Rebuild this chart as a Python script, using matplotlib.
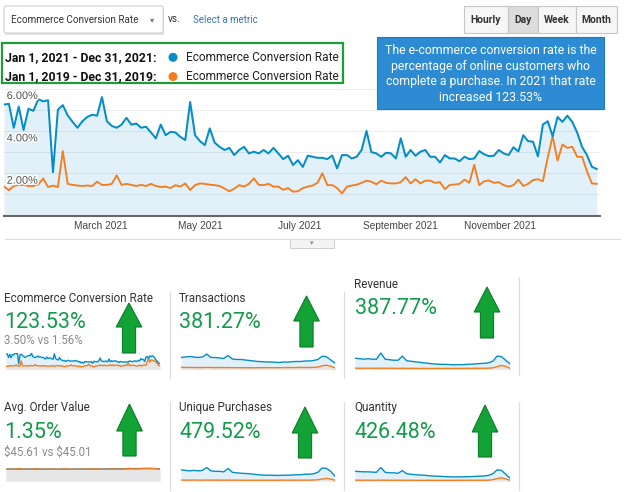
import numpy as np
import pandas as pd
import matplotlib
matplotlib.use("Agg")
import matplotlib.pyplot as plt
import matplotlib.transforms as mtransforms
import matplotlib.patheffects as pe
from matplotlib.patches import Rectangle, FancyBboxPatch, Polygon, Circle

plt.rcParams['font.family'] = ['Roboto', 'DejaVu Sans']

# ---------------- data ----------------
START_DATE = "2021-01-01"
STEP_DAYS = 3
CONV_2021 = [5.25, 5.28, 4.15, 5.15, 4.05, 5.05, 4.95, 5.50, 5.40, 5.45,
             2.05, 5.00, 5.22, 4.74, 4.43, 4.15, 4.46, 4.66, 4.77, 4.72,
             5.60, 4.46, 4.24, 4.15, 4.30, 4.62, 4.30, 4.35, 4.15, 4.20,
             3.93, 3.65, 4.30, 3.80, 3.96, 3.93, 3.72, 3.57, 5.37, 3.80,
             3.52, 3.33, 4.12, 3.45, 3.25, 3.10, 3.20, 2.86, 3.10, 3.25,
             2.94, 3.02, 2.94, 3.10, 2.94, 3.20, 2.94, 2.67, 2.83, 2.39,
             2.62, 2.30, 2.83, 2.78, 2.73, 2.73, 2.67, 2.84, 2.23, 2.86,
             2.86, 2.70, 2.78, 3.10, 4.00, 3.00, 2.94, 2.78, 2.97, 2.94,
             2.70, 3.65, 2.78, 3.10, 2.83, 3.02, 3.10, 2.78, 2.78, 2.51,
             2.86, 2.70, 2.70, 2.57, 2.78, 2.67, 2.70, 3.05, 2.90, 2.81,
             2.83, 3.10, 2.94, 2.86, 3.23, 3.03, 3.80, 3.52, 3.49, 2.80,
             4.30, 4.46, 3.75, 4.66, 4.43, 4.72, 4.43, 3.93, 3.25, 2.86,
             2.31, 2.20]
CONV_2019 = [1.37, 1.20, 1.40, 1.45, 1.45, 1.40, 1.40, 1.48, 1.75, 1.35,
             1.42, 1.35, 3.05, 1.50, 1.45, 1.42, 1.40, 1.42, 1.40, 1.60,
             1.45, 1.45, 1.50, 1.90, 1.45, 1.50, 1.45, 1.40, 1.45, 1.40,
             1.50, 1.40, 1.35, 1.37, 1.30, 1.44, 1.37, 1.52, 1.21, 1.44,
             1.52, 1.50, 1.46, 1.44, 1.40, 1.28, 1.15, 1.27, 1.44, 1.37,
             1.50, 1.76, 1.45, 1.44, 1.50, 1.37, 1.37, 1.22, 1.30, 1.13,
             1.15, 1.30, 1.37, 1.42, 1.55, 2.00, 1.44, 1.44, 1.30, 1.05,
             1.37, 1.42, 1.46, 1.55, 1.65, 1.60, 1.48, 1.65, 1.55, 1.52,
             1.52, 1.58, 1.82, 1.52, 1.72, 1.52, 1.65, 1.65, 1.55, 1.58,
             1.25, 1.45, 1.47, 1.50, 1.70, 1.55, 2.40, 1.44, 1.62, 1.66,
             1.55, 1.58, 1.44, 1.37, 1.44, 1.70, 1.40, 1.50, 1.68, 1.72,
             1.62, 2.75, 3.75, 2.60, 3.36, 3.20, 3.25, 2.78, 2.78, 2.10,
             1.52, 1.50]
Y_TICKS = [2, 4, 6]
Y_TICK_LABELS = ["2.00%", "4.00%", "6.00%"]
X_TICK_DATES = ["2021-03-01", "2021-05-01", "2021-07-01", "2021-09-01", "2021-11-01"]
X_TICK_LABELS = ["March 2021", "May 2021", "July 2021", "September 2021", "November 2021"]

SPARK_STEP = 10
TRANS_2021 = [12.0, 12.5, 13.0, 12.5, 12.0, 12.5, 15.5, 12.0, 12.0, 11.5,
              11.0, 14.0, 10.5, 10.0, 10.0, 9.5, 9.0, 8.5, 8.0, 7.8,
              7.5, 7.5, 7.2, 7.0, 7.5, 7.3, 7.8, 8.0, 8.0, 8.5,
              8.5, 9.0, 10.0, 13.3, 12.7, 9.5, 6.5]
TRANS_2019 = [2.2, 2.0, 2.1, 2.0, 1.9, 2.0, 2.1, 2.0, 1.9, 2.0,
              1.9, 2.0, 1.8, 1.9, 1.8, 1.8, 1.8, 1.7, 1.8, 1.8,
              1.9, 1.8, 1.8, 1.9, 1.9, 2.0, 1.9, 2.0, 2.1, 2.0,
              2.0, 2.1, 2.4, 3.8, 4.3, 3.2, 1.6]
REV_2021 = [11.0, 10.5, 10.0, 10.5, 10.0, 10.0, 16.0, 10.0, 9.5, 9.0,
            9.0, 13.0, 8.5, 8.0, 7.5, 7.0, 6.5, 6.0, 5.5, 5.2,
            5.0, 5.0, 4.8, 4.5, 4.8, 4.6, 5.0, 5.2, 5.4, 5.8,
            6.0, 6.5, 8.0, 13.0, 12.5, 9.0, 5.5]
REV_2019 = [1.3, 1.2, 1.2, 1.3, 1.2, 1.2, 1.3, 1.2, 1.2, 1.2,
            1.1, 1.2, 1.1, 1.1, 1.1, 1.0, 1.1, 1.0, 1.0, 1.1,
            1.0, 1.1, 1.0, 1.1, 1.1, 1.1, 1.2, 1.1, 1.2, 1.2,
            1.2, 1.3, 1.6, 2.8, 4.0, 3.0, 1.2]
UNIQ_2021 = [11.5, 11.0, 10.5, 11.0, 10.5, 11.0, 14.0, 10.5, 10.0, 10.0,
             9.5, 13.0, 9.0, 8.5, 8.0, 7.8, 7.5, 7.0, 6.5, 6.2,
             6.0, 6.0, 5.8, 5.8, 6.0, 6.0, 6.2, 6.5, 6.5, 7.0,
             7.0, 7.5, 9.0, 13.5, 13.0, 10.0, 5.0]
UNIQ_2019 = [1.0, 0.9, 0.9, 1.0, 0.9, 0.9, 1.0, 0.9, 0.9, 0.9,
             0.9, 0.9, 0.8, 0.9, 0.8, 0.8, 0.8, 0.8, 0.8, 0.8,
             0.8, 0.8, 0.8, 0.8, 0.9, 0.8, 0.9, 0.9, 0.9, 0.9,
             0.9, 1.0, 1.3, 2.0, 2.7, 2.0, 0.8]
QTY_2021 = [10.0, 9.8, 9.5, 9.5, 9.2, 9.0, 14.0, 9.0, 8.5, 8.5,
            8.0, 10.7, 7.5, 7.0, 6.5, 6.2, 6.0, 5.5, 5.2, 5.0,
            4.8, 4.5, 4.3, 4.2, 4.3, 4.2, 4.5, 4.5, 4.8, 5.0,
            5.2, 5.8, 7.5, 11.5, 11.0, 7.0, 3.0]
QTY_2019 = [0.9, 0.8, 0.8, 0.9, 0.8, 0.8, 0.9, 0.8, 0.8, 0.8,
            0.8, 0.8, 0.7, 0.8, 0.7, 0.7, 0.7, 0.7, 0.7, 0.7,
            0.7, 0.7, 0.7, 0.7, 0.8, 0.7, 0.8, 0.8, 0.8, 0.8,
            0.8, 0.9, 1.4, 2.5, 3.3, 2.2, 0.8]
AOV_2021 = [45.0, 45.5, 44.8, 45.2, 45.0, 45.3, 45.5, 45.0, 44.8, 45.2,
            45.0, 45.3, 44.8, 45.0, 45.2, 44.8, 45.0, 45.5, 45.2, 45.0,
            45.3, 45.5, 45.2, 45.8, 45.5, 46.0, 45.8, 46.0, 46.2, 46.5,
            46.8, 47.0, 47.5, 47.8, 47.5, 47.0, 45.5]
AOV_2019 = [44.5, 45.5, 44.0, 47.0, 44.5, 45.0, 44.2, 46.5, 44.5, 45.0,
            44.8, 45.5, 44.2, 45.0, 46.0, 44.5, 45.0, 44.2, 45.5, 44.8,
            45.0, 46.5, 44.5, 45.0, 44.8, 45.5, 45.0, 45.2, 46.0, 48.0,
            45.5, 46.0, 46.5, 47.0, 46.8, 46.5, 44.5]

TILE_TITLES = ["Ecommerce Conversion Rate", "Transactions", "Revenue",
               "Avg. Order Value", "Unique Purchases", "Quantity"]
TILE_CHANGES = ["123.53%", "381.27%", "387.77%", "1.35%", "479.52%", "426.48%"]
TILE_SUBS = ["3.50% vs 1.56%", "", "", "$45.61 vs $45.01", "", ""]

LEGEND_RANGES = ["Jan 1, 2021 - Dec 31, 2021:", "Jan 1, 2019 - Dec 31, 2019:"]
METRIC = "Ecommerce Conversion Rate"
NOTE_LINES = ["The e-commerce conversion rate is the",
              "percentage of online customers who",
              "complete a purchase. In 2021 that rate",
              "increased 123.53%"]
BUTTONS = ["Hourly", "Day", "Week", "Month"]

# ---------------- style ----------------
BLUE = '#058dc7'
ORANGE = '#f47d20'
FILL = '#e2f1f9'
GREEN_TXT = '#149a4b'
W, H = 624, 492

fig = plt.figure(figsize=(W / 100, H / 100), dpi=100)
fig.patch.set_facecolor('white')


def rect(x0, y0, x1, y1):
    return [x0 / W, 1 - y1 / H, (x1 - x0) / W, (y1 - y0) / H]


# ---------------- main chart ----------------
dates = pd.Timestamp(START_DATE) + pd.to_timedelta(np.arange(len(CONV_2021)) * STEP_DAYS, unit='D')
ax = fig.add_axes(rect(4, 88, 600, 215.6), zorder=1)
ax.fill_between(dates, CONV_2021, 0, color=FILL, lw=0, zorder=1)
for v in range(1, 7):
    ax.axhline(v, color='black', alpha=0.07, lw=0.7, zorder=2)
ax.plot(dates, CONV_2019, color=ORANGE, lw=1.35, zorder=3, solid_joinstyle='round')
ax.plot(dates, CONV_2021, color=BLUE, lw=1.45, zorder=4, solid_joinstyle='round')
ax.set_xlim(pd.Timestamp("2021-01-01"), pd.Timestamp("2022-01-01"))
ax.set_ylim(0, 6.03)
for s in ['top', 'left', 'right']:
    ax.spines[s].set_visible(False)
ax.spines['bottom'].set_color('#666666')
ax.spines['bottom'].set_linewidth(1.5)
ax.set_yticks([])
ax.set_xticks(pd.to_datetime(X_TICK_DATES))
ax.set_xticklabels(X_TICK_LABELS, fontsize=7.3, color='#444444', family=['Liberation Sans', 'DejaVu Sans'])
ax.tick_params(axis='x', length=0, pad=4.2)
trans = mtransforms.blended_transform_factory(ax.transAxes, ax.transData)
for v, lab in zip(Y_TICKS, Y_TICK_LABELS):
    ax.text(2.7 / 596, v - 0.35, lab, transform=trans, fontsize=7.9, color='#555555',
            family=['Liberation Sans', 'DejaVu Sans'], ha='left', va='center', zorder=6,
            path_effects=[pe.withStroke(linewidth=2.2, foreground='white')])

# ---------------- overlay (UI) ----------------
ov = fig.add_axes([0, 0, 1, 1], zorder=10)
ov.set_xlim(0, W)
ov.set_ylim(H, 0)
ov.axis('off')

# dropdown
ov.add_patch(Rectangle((4.5, 7.5), 159, 27, fc='#e4e4e4', ec='none'))
ov.add_patch(FancyBboxPatch((4, 6), 159, 27, boxstyle='round,pad=0,rounding_size=2',
                            fc='white', ec='#cfcfcf', lw=0.8))
ov.text(11, 20, METRIC, fontsize=7.1, color='#333333', va='center', ha='left')
ov.text(152, 20, '▾', fontsize=6, color='#777777', family='DejaVu Sans', ha='center', va='center')
ov.text(168, 19.5, 'vs.', fontsize=7.2, color='#333333', va='center', ha='left')
ov.text(193, 20, 'Select a metric', fontsize=7.0, color='#3474b7', va='center', ha='left')

# buttons
btn_x = [464, 508, 538, 576, 617]
for i, lab in enumerate(BUTTONS):
    x0, x1 = btn_x[i], btn_x[i + 1]
    fc = '#dcdcdc' if lab == 'Day' else '#f6f6f6'
    ov.add_patch(Rectangle((x0, 6), x1 - x0, 27, fc=fc, ec='#c6c6c6', lw=0.8))
    ov.text((x0 + x1) / 2, 20, lab, fontsize=7.4, fontweight='bold', color='#333333',
            ha='center', va='center')

# legend box
ov.add_patch(Rectangle((2, 43), 341, 40, fc='white', ec='#1f9d3a', lw=1.6))
for i, (lab, col) in enumerate(zip(LEGEND_RANGES, [BLUE, ORANGE])):
    y = 57.3 + i * 19.3
    ov.text(5, y, lab, fontsize=8.8, fontweight='bold', color='#111111', va='center', ha='left')
    ov.add_patch(Circle((173, y), 3.8, color=col))
    ov.text(186, y, METRIC, fontsize=8.6, color='#222222', va='center', ha='left')

# note box
ov.add_patch(Rectangle((377, 37), 227, 72, fc='#2c8bd2', ec='#2478bb', lw=0.8))
for i, line in enumerate(NOTE_LINES):
    ov.text(490.5, 50.5 + i * 15.7, line, fontsize=8.8, color='white', ha='center', va='center')

# separator under chart + tab
ov.plot([5, 620], [239, 239], color='#dcdcdc', lw=0.8)
ov.add_patch(Rectangle((290, 239), 44, 9, fc='#f4f4f4', ec='#cfcfcf', lw=0.7))
ov.text(312, 243.5, '▾', fontsize=5, color='#888888', family='DejaVu Sans', ha='center', va='center')

# ---------------- tiles ----------------
TILES = [
    dict(x=4, ty=298, by=322, sy=341, sp=(6, 353, 160, 369.5), ar=(129, 303, 327, 353)),
    dict(x=179, ty=298, by=322, sy=341, sp=(181, 353, 335, 369.5), ar=(306.5, 296, 321, 347)),
    dict(x=354, ty=284, by=308, sy=327, sp=(355, 352, 510, 369.5), ar=(487, 287, 312, 338)),
    dict(x=4, ty=408, by=433, sy=452, sp=(6, 467, 160, 481), ar=(129.5, 404, 431, 456)),
    dict(x=179, ty=408, by=433, sy=452, sp=(181, 467, 335, 481), ar=(305, 407, 433, 458)),
    dict(x=354, ty=408, by=433, sy=452, sp=(355, 467, 510, 481), ar=(485, 405, 432, 457)),
]
spark_days = np.arange(len(TRANS_2021)) * SPARK_STEP
conv_days = np.arange(len(CONV_2021)) * STEP_DAYS
SPARKS = [
    (conv_days, CONV_2021, CONV_2019, (0.25, 5.6), False),
    (spark_days, TRANS_2021, TRANS_2019, (0, 16.5), False),
    (spark_days, REV_2021, REV_2019, (0, 17.0), False),
    (spark_days, AOV_2021, AOV_2019, (0, 53.0), True),
    (spark_days, UNIQ_2021, UNIQ_2019, (0, 14.5), False),
    (spark_days, QTY_2021, QTY_2019, (0, 14.5), False),
]

for t, title, chg, sub, spk in zip(TILES, TILE_TITLES, TILE_CHANGES, TILE_SUBS, SPARKS):
    ov.text(t['x'], t['ty'], title, fontsize=8.4, color='#333333', ha='left', va='center')
    ov.text(t['x'] + 0.5, t['by'], chg, fontsize=15.5, color=GREEN_TXT, ha='left', va='center')
    if sub:
        ov.text(t['x'] + 0.5, t['sy'], sub, fontsize=8.3, color='#8a8a8a', ha='left', va='center',
                parse_math=False)
    days, y21, y19, ylims, orange_top = spk
    sa = fig.add_axes(rect(*t['sp']), zorder=2)
    sa.fill_between(days, y21, ylims[0], color=FILL, lw=0)
    sa.fill_between(days, y19, ylims[0], color='#e6e6e6', lw=0)
    if orange_top:
        sa.plot(days, y21, color=BLUE, lw=1.0)
        sa.plot(days, y19, color=ORANGE, lw=1.0)
    else:
        sa.plot(days, y19, color=ORANGE, lw=1.0)
        sa.plot(days, y21, color=BLUE, lw=1.0)
    sa.set_xlim(days[0], days[-1])
    sa.set_ylim(*ylims)
    sa.axis('off')
    xc, ytip, ybase, ybot = t['ar']
    hw, sw = 12.8, 6.6
    pts = [(xc, ytip), (xc + hw, ybase), (xc + sw, ybase), (xc + sw, ybot),
           (xc - sw, ybot), (xc - sw, ybase), (xc - hw, ybase)]
    ov.add_patch(Polygon(pts, closed=True, fc='#13a236', ec='#0b7d27', lw=0.8))

for (x, y0, y1) in [(170, 292, 378), (344, 292, 378), (519, 277, 375),
                    (170, 402, 490), (344, 402, 490), (519, 402, 490)]:
    ov.plot([x, x], [y0, y1], color='#dddddd', lw=0.9)

fig.savefig('out.png', dpi=100, facecolor='white')
